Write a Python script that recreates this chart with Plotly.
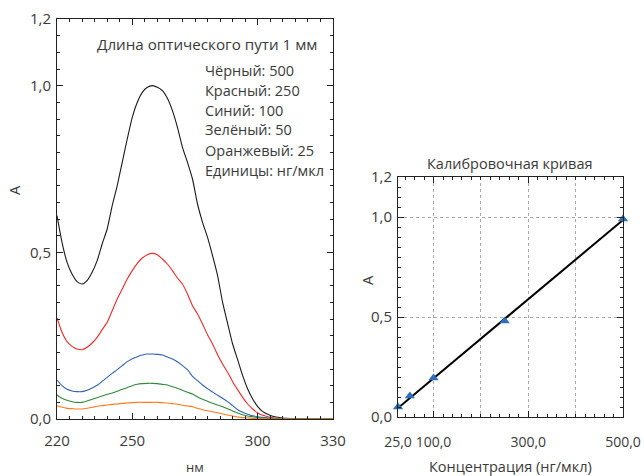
import plotly.graph_objects as go

# ---------------- data ----------------
wavelength_nm = [220, 222, 224, 226, 228, 230, 232, 234, 236, 238, 240, 242, 244, 246, 248,
                 250, 252, 254, 256, 258, 260, 262, 264, 266, 268, 270, 272, 274, 276, 278,
                 280, 282, 284, 286, 288, 290, 292, 294, 296, 298, 300, 302, 304, 306, 308,
                 310, 315, 320, 325, 330]

abs_black_500 = [0.61, 0.53, 0.47, 0.435, 0.412, 0.405, 0.415, 0.44, 0.475, 0.525, 0.57, 0.64, 0.70,
                 0.77, 0.84, 0.905, 0.95, 0.98, 0.995, 1.0, 0.995, 0.985, 0.962, 0.925, 0.875, 0.815,
                 0.77, 0.72, 0.645, 0.59, 0.545, 0.49, 0.43, 0.35, 0.287, 0.225, 0.178, 0.13, 0.09,
                 0.06, 0.037, 0.022, 0.014, 0.008, 0.005, 0.003, 0.001, 0.0, 0.0, 0.0]

abs_red_250 = [0.303, 0.26, 0.232, 0.218, 0.21, 0.208, 0.215, 0.228, 0.245, 0.268, 0.29, 0.325, 0.36,
               0.39, 0.42, 0.445, 0.467, 0.483, 0.493, 0.497, 0.493, 0.48, 0.465, 0.445, 0.423, 0.405,
               0.375, 0.34, 0.315, 0.285, 0.253, 0.225, 0.193, 0.165, 0.14, 0.112, 0.088, 0.065, 0.045,
               0.03, 0.018, 0.011, 0.007, 0.004, 0.002, 0.001, 0.0, 0.0, 0.0, 0.0]

abs_blue_100 = [0.117, 0.1, 0.089, 0.084, 0.082, 0.082, 0.086, 0.093, 0.101, 0.113, 0.125, 0.137, 0.148,
                0.16, 0.172, 0.181, 0.187, 0.192, 0.195, 0.195, 0.194, 0.192, 0.186, 0.18, 0.172, 0.16,
                0.148, 0.128, 0.115, 0.102, 0.091, 0.081, 0.071, 0.062, 0.052, 0.04, 0.028, 0.02, 0.014,
                0.01, 0.007, 0.005, 0.003, 0.002, 0.001, 0.0, 0.0, 0.0, 0.0, 0.0]

abs_green_50 = [0.072, 0.062, 0.056, 0.052, 0.05, 0.05, 0.054, 0.059, 0.064, 0.069, 0.074, 0.078, 0.083,
                0.089, 0.094, 0.1, 0.104, 0.106, 0.107, 0.107, 0.106, 0.104, 0.102, 0.097, 0.092, 0.086,
                0.08, 0.075, 0.066, 0.059, 0.053, 0.047, 0.042, 0.037, 0.031, 0.024, 0.018, 0.013, 0.009,
                0.007, 0.004, 0.003, 0.002, 0.001, 0.0, 0.0, 0.0, 0.0, 0.0, 0.0]

abs_orange_25 = [0.04, 0.035, 0.032, 0.031, 0.03, 0.03, 0.032, 0.035, 0.038, 0.04, 0.042, 0.044, 0.045,
                 0.047, 0.048, 0.049, 0.05, 0.05, 0.05, 0.05, 0.05, 0.049, 0.048, 0.046, 0.044, 0.041,
                 0.039, 0.037, 0.032, 0.028, 0.025, 0.022, 0.019, 0.015, 0.012, 0.009, 0.006, 0.004, 0.003,
                 0.002, 0.001, 0.001, 0.0, 0.0, 0.0, 0.0, 0.0, 0.0, 0.0, 0.0]

spectra_colors = ["#1a1a1a", "#ee2a2a", "#2f62b8", "#2f8a3a", "#ff7a1a"]

calib_conc = [25, 50, 100, 250, 500]
calib_abs = [0.05, 0.105, 0.195, 0.48, 0.99]
fit_conc = [25, 500]
fit_abs = [0.045, 0.985]

legend_lines = ["Чёрный: 500", "Красный: 250", "Синий: 100", "Зелёный: 50",
                "Оранжевый: 25", "Единицы: нг/мкл"]

left_xtick_vals = [220, 250, 300, 330]
left_xtick_text = ["220", "250", "300", "330"]
ytick_vals = [0, 0.5, 1.0, 1.2]
ytick_text = ["0,0", "0,5", "1,0", "1,2"]
right_xtick_vals = [25, 100, 200, 300, 400, 500]
right_xtick_text = ["25,0", "100,0", "", "300,0", "", "500,0"]

# ---------------- figure ----------------
W, H = 644, 476
FONT = "Open Sans"
TXT = "#3a3a3a"
FS = 14.5

fig = go.Figure()
for ys, col in zip([abs_black_500, abs_red_250, abs_blue_100, abs_green_50, abs_orange_25], spectra_colors):
    fig.add_trace(go.Scatter(x=wavelength_nm, y=ys, mode="lines",
                             line=dict(color=col, width=1.1, shape="spline", smoothing=0.6),
                             xaxis="x", yaxis="y", showlegend=False, hoverinfo="skip"))

fig.add_trace(go.Scatter(x=fit_conc, y=fit_abs, mode="lines", line=dict(color="black", width=2),
                         xaxis="x2", yaxis="y2", showlegend=False))
fig.add_trace(go.Scatter(x=calib_conc, y=calib_abs, mode="markers",
                         marker=dict(symbol="triangle-up", size=9, color="#2f6fba"),
                         xaxis="x2", yaxis="y2", showlegend=False, cliponaxis=False))

def px(x):
    return x / W

def py(y):
    return 1 - y / H

axis_common = dict(showline=True, linecolor="#222", linewidth=1, mirror="allticks",
                   ticks="inside", ticklen=6, tickcolor="#222", zeroline=False, automargin=False,
                   tickangle=0)
tf15 = dict(family=FONT, size=15, color=TXT)
tf14 = dict(family=FONT, size=14, color=TXT)

fig.update_layout(
    width=W, height=H, margin=dict(l=0, r=0, t=0, b=0),
    paper_bgcolor="white", plot_bgcolor="white",
    font=dict(family=FONT, color=TXT),
    xaxis=dict(domain=[px(57), px(333)], range=[220, 330], anchor="y",
               tickmode="array", tickvals=left_xtick_vals, ticktext=left_xtick_text,
               showgrid=False, ticklabelstandoff=8, tickfont=tf15,
               minor=dict(ticks="inside", ticklen=3, tickcolor="#222",
                          tickvals=list(range(220, 331, 5)), showgrid=False),
               **axis_common),
    yaxis=dict(domain=[py(419), py(19)], range=[0, 1.2], anchor="x",
               tickmode="array", tickvals=ytick_vals, ticktext=ytick_text,
               showgrid=False, ticklabelstandoff=2, tickfont=tf15,
               minor=dict(ticks="inside", ticklen=3, tickcolor="#222",
                          tickvals=[i * 0.05 for i in range(25)], showgrid=False),
               **axis_common),
    xaxis2=dict(domain=[px(398), px(623)], range=[25, 500], anchor="y2",
                tickmode="array", tickvals=right_xtick_vals, ticktext=right_xtick_text,
                showgrid=True, gridcolor="#aaaaaa", griddash="dot", gridwidth=1, ticklabelstandoff=12,
                tickfont=tf14,
                minor=dict(ticks="inside", ticklen=3, tickcolor="#222",
                           tickvals=list(range(40, 500, 20)), showgrid=False),
                **axis_common),
    yaxis2=dict(domain=[py(417), py(177)], range=[0, 1.2], anchor="x2",
                tickmode="array", tickvals=ytick_vals, ticktext=ytick_text,
                showgrid=True, gridcolor="#aaaaaa", griddash="dot", gridwidth=1, ticklabelstandoff=2,
                tickfont=tf15,
                minor=dict(ticks="inside", ticklen=3, tickcolor="#222",
                           tickvals=[i * 0.05 for i in range(25)], showgrid=False),
                **axis_common),
)

ann = []
def text(x, y, s, size=FS, xanchor="center", angle=0):
    ann.append(dict(x=px(x), y=py(y), xref="paper", yref="paper", text=s, showarrow=False,
                    xanchor=xanchor, yanchor="middle", textangle=angle,
                    font=dict(family=FONT, size=size, color=TXT)))

text(207, 44, "Длина оптического пути 1 мм", size=15.2)
for i, s in enumerate(legend_lines):
    text(203, 70 + 20 * i, s, xanchor="left")
text(14, 190, "A", angle=-90)
text(195, 467, "нм", size=13)
text(510, 163, "Калибровочная кривая")
text(367, 280, "A", angle=-90)
text(510, 466, "Концентрация (нг/мкл)")

fig.update_layout(annotations=ann)
fig.write_html("out.html")
